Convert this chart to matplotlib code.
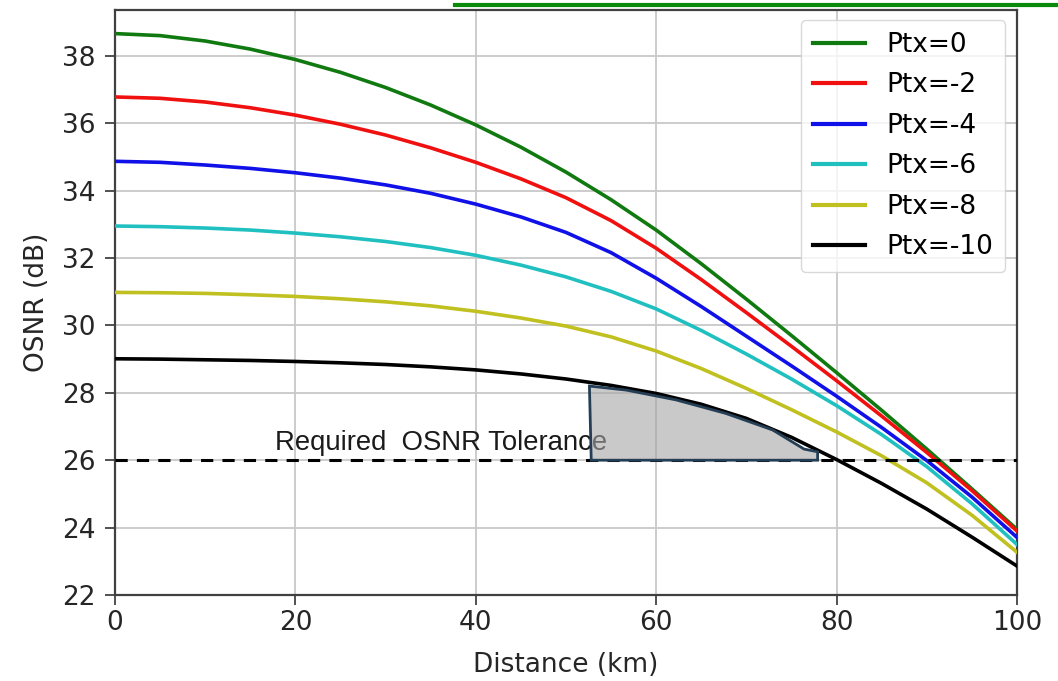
import matplotlib
matplotlib.use("Agg")
import matplotlib.pyplot as plt
from matplotlib.lines import Line2D
from matplotlib.patches import Polygon

distance_km = [0, 5, 10, 15, 20, 25, 30, 35, 40, 45, 50,
               55, 60, 65, 70, 75, 80, 85, 90, 95, 100]

osnr_ptx_0 = [38.66, 38.60, 38.44, 38.20, 37.89, 37.51, 37.06, 36.54, 35.95, 35.29, 34.55,
              33.73, 32.83, 31.83, 30.78, 29.70, 28.60, 27.48, 26.33, 25.15, 23.95]
osnr_ptx_m2 = [36.78, 36.74, 36.63, 36.46, 36.24, 35.97, 35.65, 35.27, 34.84, 34.35, 33.79,
               33.11, 32.29, 31.36, 30.38, 29.38, 28.36, 27.31, 26.23, 25.10, 23.90]
osnr_ptx_m4 = [34.87, 34.84, 34.76, 34.66, 34.53, 34.37, 34.17, 33.92, 33.60, 33.22, 32.76,
               32.16, 31.40, 30.56, 29.68, 28.80, 27.90, 26.97, 25.99, 24.91, 23.71]
osnr_ptx_m6 = [32.95, 32.93, 32.89, 32.83, 32.74, 32.63, 32.49, 32.31, 32.08, 31.79, 31.44,
               31.01, 30.49, 29.85, 29.15, 28.41, 27.62, 26.76, 25.81, 24.71, 23.50]
osnr_ptx_m8 = [30.98, 30.97, 30.95, 30.91, 30.86, 30.79, 30.70, 30.58, 30.42, 30.22, 29.98,
               29.66, 29.24, 28.72, 28.13, 27.50, 26.84, 26.13, 25.33, 24.37, 23.27]
osnr_ptx_m10 = [29.01, 29.00, 28.98, 28.96, 28.93, 28.89, 28.84, 28.77, 28.68, 28.56, 28.41,
                28.22, 27.98, 27.66, 27.24, 26.68, 26.02, 25.31, 24.55, 23.72, 22.86]

series_labels = ["Ptx=0", "Ptx=-2", "Ptx=-4", "Ptx=-6", "Ptx=-8", "Ptx=-10"]
series_colors = ["#107a10", "#f01010", "#1010e8", "#20c0c0", "#c0c020", "#000000"]

required_osnr = 26
tolerance_label = "Required  OSNR Tolerance"

# shaded margin region (distance, OSNR)
margin_x = [52.6, 56.7, 62.2, 67.7, 72.9, 76.4, 77.9, 77.9, 52.8]
margin_y = [28.20, 28.08, 27.79, 27.39, 26.90, 26.33, 26.25, 26.0, 26.0]

x_ticks = [0, 20, 40, 60, 80, 100]
y_ticks = [22, 24, 26, 28, 30, 32, 34, 36, 38]

fig = plt.figure(figsize=(10.58, 6.81), dpi=100)
ax = fig.add_axes([0.1087, 0.1263, 0.8525, 0.859])

all_series = [osnr_ptx_0, osnr_ptx_m2, osnr_ptx_m4, osnr_ptx_m6, osnr_ptx_m8, osnr_ptx_m10]
for vals, lab, col in zip(all_series, series_labels, series_colors):
    ax.plot(distance_km, vals, color=col, lw=2.6, label=lab, zorder=3)

ax.axhline(required_osnr, color="black", lw=2.2, ls=(0, (4, 3)), zorder=3)

poly = Polygon(list(zip(margin_x, margin_y)), closed=True,
               facecolor="#a6a6a6", alpha=0.6, edgecolor="none", zorder=5)
ax.add_patch(poly)
poly_edge = Polygon(list(zip(margin_x, margin_y)), closed=True,
                    facecolor="none", edgecolor="#243f55", lw=2.0, zorder=6)
ax.add_patch(poly_edge)

ax.text(17.7, 26.3, tolerance_label, fontsize=19.8, family="Liberation Sans",
        color="#1a1a1a", ha="left", va="baseline", zorder=4)

ax.set_xlim(0, 100)
ax.set_ylim(22, 39.36)
ax.set_xticks(x_ticks)
ax.set_yticks(y_ticks)
ax.grid(True, color="#c8c8c8", lw=1.3)
ax.set_axisbelow(True)
ax.tick_params(labelsize=19, colors="#333333", length=7, width=1.2, labelcolor="#262626")
ax.tick_params(axis="y", pad=7)
for s in ax.spines.values():
    s.set_color("#404040")
    s.set_linewidth(1.6)

ax.set_xlabel("Distance (km)", fontsize=19, color="#262626", labelpad=12)
ax.set_ylabel("OSNR (dB)", fontsize=19, color="#262626", labelpad=9)

leg = ax.legend(loc="upper right", fontsize=19, frameon=True, fancybox=True,
                handlelength=2.0, borderpad=0.45, labelspacing=0.55,
                borderaxespad=0, bbox_to_anchor=(0.987, 0.983))
for h in leg.get_lines():
    h.set_linewidth(3.0)
leg.get_frame().set_edgecolor("#d0d0d0")

fig.add_artist(Line2D([0.43, 1.0], [0.993, 0.993], transform=fig.transFigure,
                      color="#0a8a0a", lw=3))

fig.savefig("out.png", dpi=100)
